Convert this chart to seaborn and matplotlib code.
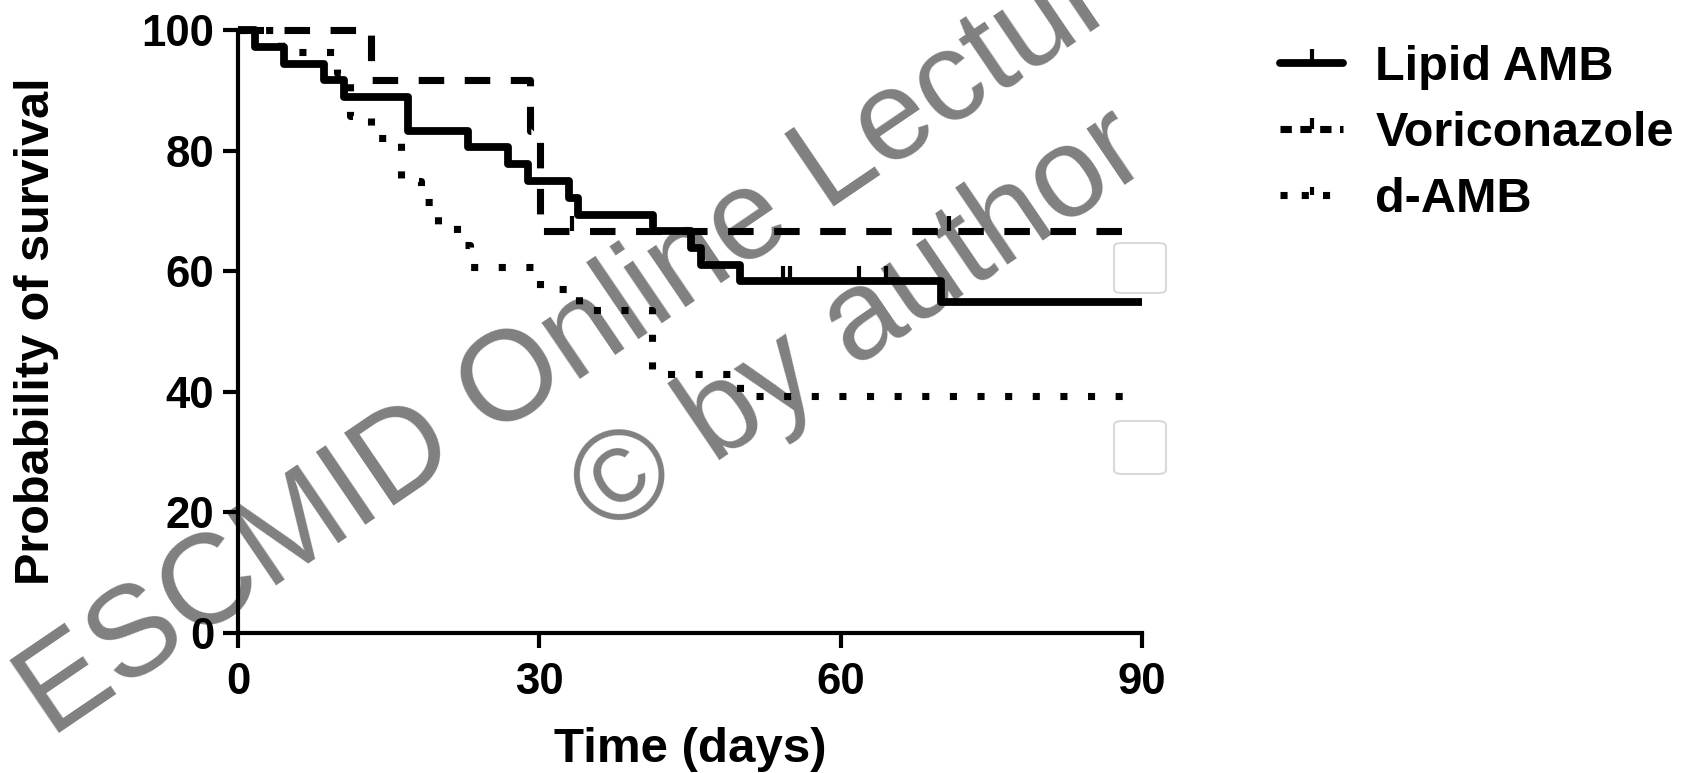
import matplotlib
matplotlib.use("Agg")
import matplotlib.pyplot as plt
from matplotlib.lines import Line2D
from matplotlib.patches import FancyBboxPatch
import seaborn as sns

# ---- data ----
lipid_t = [0, 1.7, 4.6, 8.6, 10.6, 16.9, 22.9, 26.9, 28.9, 33.0, 33.9, 41.3, 45.1, 46.1, 50.0, 70.0, 90]
lipid_s = [100, 97.2, 94.4, 91.7, 88.9, 83.3, 80.6, 77.8, 75.0, 72.2, 69.4, 66.7, 63.9, 61.1, 58.3, 54.9, 54.9]
lipid_cens_t = [54.3, 55.0, 61.8, 64.5]
lipid_cens_s = [58.3, 58.3, 58.3, 58.3]

vori_t = [0, 13.2, 29.1, 30.1, 90]
vori_s = [100, 91.7, 83.3, 66.7, 66.7]
vori_cens_t = [33.3, 70.8]
vori_cens_s = [66.7, 66.7]

damb_t = [0, 4.3, 9.9, 11.2, 13.2, 16.2, 18.2, 19.9, 21.8, 23.1, 30.1, 34.0, 41.2, 50.0, 90]
damb_s = [100, 96.4, 92.9, 85.7, 82.1, 75.0, 71.4, 67.9, 64.3, 60.7, 57.1, 53.6, 42.9, 39.3, 39.3]

series_names = ["Lipid AMB", "Voriconazole", "d-AMB"]
x_ticks = [0, 30, 60, 90]
y_ticks = [0, 20, 40, 60, 80, 100]
x_label = "Time (days)"
y_label = "Probability of survival"

# ---- style ----
sns.set_style("ticks")
plt.rcParams["font.family"] = ["Liberation Sans", "DejaVu Sans"]
plt.rcParams["font.weight"] = "bold"
for k in ["text.color", "axes.labelcolor", "xtick.color", "ytick.color", "axes.edgecolor"]:
    plt.rcParams[k] = "black"

fig = plt.figure(figsize=(16.91, 7.73), dpi=100)
ax = fig.add_axes([0.1407, 0.1811, 0.6753 - 0.1407, 0.9612 - 0.1811])
ax.patch.set_visible(False)

ls_solid = "-"
ls_dash = (0, (3.6, 2.9))
ls_dot = (0, (1.0, 2.9))

sns.lineplot(x=lipid_t, y=lipid_s, ax=ax, color="black", lw=5.6, linestyle=ls_solid,
             drawstyle="steps-post", estimator=None, sort=False, clip_on=False,
             solid_capstyle="butt")
sns.lineplot(x=vori_t, y=vori_s, ax=ax, color="black", lw=5.1, linestyle=ls_dash,
             drawstyle="steps-post", estimator=None, sort=False, clip_on=False)
sns.lineplot(x=damb_t, y=damb_s, ax=ax, color="black", lw=5.1, linestyle=ls_dot,
             drawstyle="steps-post", estimator=None, sort=False, clip_on=False)

# censor ticks
sns.scatterplot(x=lipid_cens_t, y=lipid_cens_s, ax=ax, marker=2, s=120, linewidth=3,
                color="black", clip_on=False)
sns.scatterplot(x=vori_cens_t, y=vori_cens_s, ax=ax, marker=2, s=120, linewidth=3,
                color="black", clip_on=False)

ax.set_xlim(0, 90)
ax.set_ylim(0, 100)
ax.set_xticks(x_ticks)
ax.set_yticks(y_ticks)
sns.despine(ax=ax)
for sp in ["left", "bottom"]:
    ax.spines[sp].set_linewidth(3)
    ax.spines[sp].set_color("black")
ax.tick_params(axis="both", length=11, width=3, color="black", labelsize=31.5,
               labelcolor="black")
ax.tick_params(axis="y", pad=6)
ax.tick_params(axis="x", pad=10)
for lab in ax.get_xticklabels() + ax.get_yticklabels():
    lab.set_fontweight("bold")
ax.set_xlabel(x_label, fontsize=35.5, fontweight="bold", labelpad=17, color="black")
ax.set_ylabel(y_label, fontsize=35, fontweight="bold", color="black")
ax.yaxis.set_label_coords(-0.198, 0.5)

# legend
handles = [
    Line2D([], [], color="black", lw=5.6, linestyle=ls_solid, marker=2, markersize=10, mew=3),
    Line2D([], [], color="black", lw=5.1, linestyle=(0, (1.6, 1.2)), marker=2, markersize=8, mew=3),
    Line2D([], [], color="black", lw=5.1, linestyle=(0, (1.0, 2.0)), marker=2, markersize=6, mew=3),
]
leg = fig.legend(handles, series_names, loc="upper left", bbox_to_anchor=(0.757, 0.942),
                 frameon=False, handlelength=1.3, handletextpad=0.66,
                 labelspacing=0.43, borderpad=0, borderaxespad=0,
                 prop={"weight": "bold", "size": 35})

# small faint boxes at right edge of plot
for yb in [(243, 293), (421, 474)]:
    x0 = 1114 / 1691
    w = 52 / 1691
    y0 = 1 - yb[1] / 773
    h = (yb[1] - yb[0]) / 773
    fig.patches.append(FancyBboxPatch((x0, y0), w, h, boxstyle="round,pad=0,rounding_size=0.005",
                                      transform=fig.transFigure, facecolor="white",
                                      edgecolor="#d9d9d9", lw=1.5, zorder=5))

# watermark (behind the curves)
wm_kw = dict(color="#808080", fontsize=92, fontweight="normal", rotation=34.2,
             rotation_mode="anchor", ha="left", va="baseline", zorder=-1)
fig.text(0.030, 0.045, "ESCMID Online Lecture Library", **wm_kw)
fig.text(0.3585, 0.304, "\u00a9 by author", **wm_kw)

fig.savefig("out.png", dpi=100)
